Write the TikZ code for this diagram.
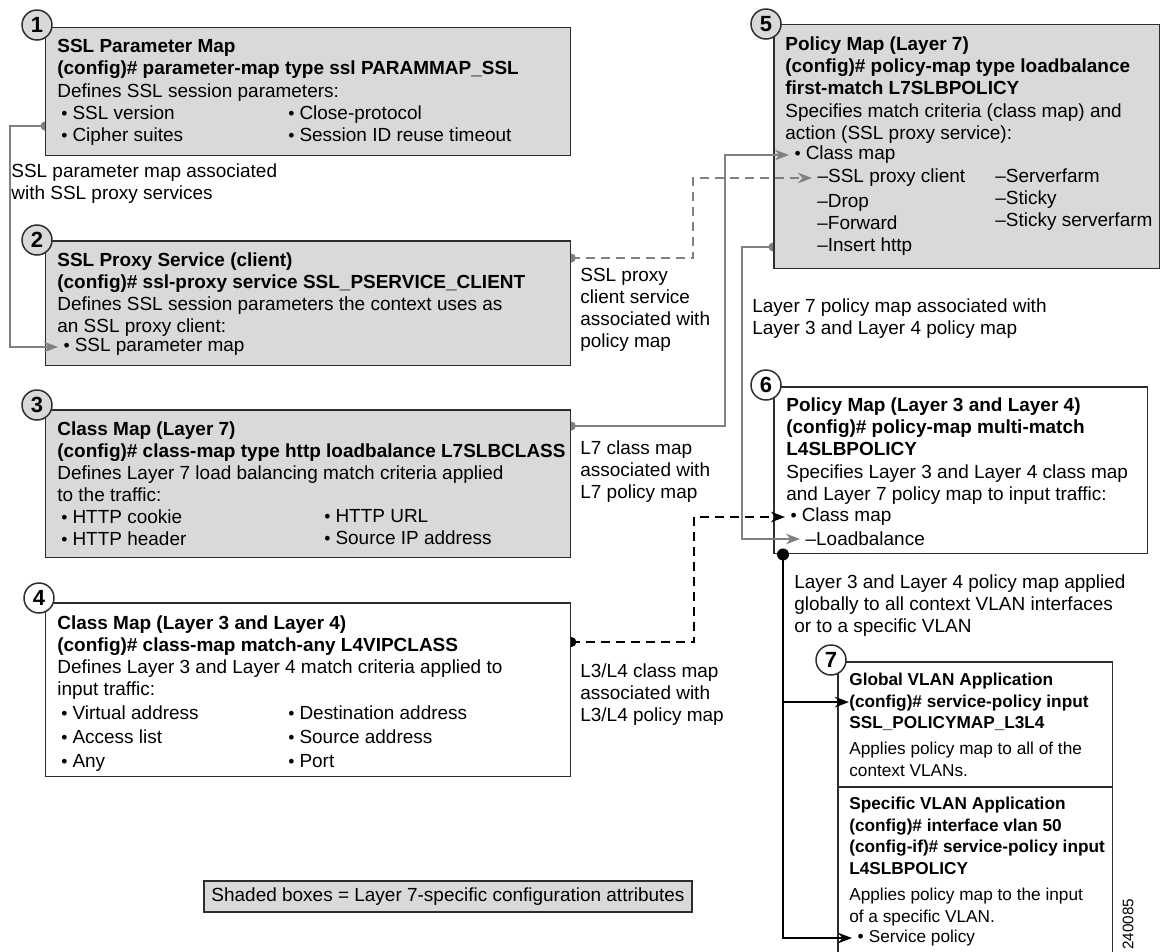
\documentclass[tikz,border=0pt]{standalone}
\usepackage{fontspec}
\setmainfont{Liberation Sans}
\usetikzlibrary{arrows.meta, positioning, calc}
\definecolor{shade}{RGB}{217,217,217}
\definecolor{linkgray}{RGB}{128,128,128}
\definecolor{edge}{RGB}{45,45,45}
\newcommand{\fnt}{\fontsize{10.8}{12.5}\selectfont}
\newcommand{\fsm}{\fontsize{9.8}{12.2}\selectfont}
\newcommand{\bul}{{\fontsize{10}{10}\selectfont\textbullet}\hspace{0.1cm}}
\pgfdeclarelayer{back}
\pgfsetlayers{back,main}

\begin{document}
\begin{tikzpicture}[x=0.02cm, y=-0.02cm,
    txt/.style={anchor=north west, inner sep=0pt, align=left, font=\fnt},
    hd/.style={txt, font=\fnt\bfseries},
    txtsm/.style={txt, font=\fsm},
    hdsm/.style={txt, font=\fsm\bfseries},
    tgt/.style={txt, anchor=west, inner xsep=3pt},
    box/.style={draw=edge, line width=0.85pt, anchor=north west, inner sep=0pt, fill=white},
    l7box/.style={box, fill=shade},
    num/.style={circle, draw=edge, line width=0.85pt, fill=white, minimum size=0.6cm, inner sep=0pt, font=\fontsize{12.5}{12.5}\selectfont\bfseries},
    glink/.style={linkgray, line width=1.15pt, -{Stealth[length=8pt, width=6pt]}},
    gdash/.style={glink, dash pattern=on 5pt off 3.5pt, -{Stealth[length=8pt, width=6pt, fill=white]}},
    blink/.style={black, line width=1.4pt, -{Stealth[length=8pt, width=6pt]}},
    bdash/.style={blink, line width=1.2pt, dash pattern=on 5pt off 3.5pt}]
  \useasboundingbox (0,0) rectangle (1162,951);
  \begin{pgfonlayer}{back}
    \fill[white] (0,0) rectangle (1162,951);
  \end{pgfonlayer}

  % left column
  \node[l7box, minimum width=10.5cm, minimum height=2.56cm] (pm) at (45,27) {};
  \node[num, fill=shade] (n1) at (37,25) {1};
  \node[hd] (pmt) at (57,39) {SSL Parameter Map\\(config)\# parameter-map type ssl PARAMMAP\_SSL};
  \node[txt] (pmd) at (57,83) {Defines SSL session parameters:};
  \node[txt] (pma) at (61,105) {\bul SSL version\\\bul Cipher suites};
  \node[txt] (pmb) at (288,105) {\bul Close-protocol\\\bul Session ID reuse timeout};

  \node[l7box, minimum width=10.5cm, minimum height=2.5cm] (ps) at (45,240) {};
  \node[num, fill=shade] (n2) at (37,240) {2};
  \node[hd] (pst) at (57,252) {SSL Proxy Service (client)\\(config)\# ssl-proxy service SSL\_PSERVICE\_CLIENT};
  \node[txt] (psd) at (57,296) {Defines SSL session parameters the context uses as\\an SSL proxy client:};
  \node[tgt] (spm) at (58,347) {\bul SSL parameter map};

  \node[l7box, minimum width=10.5cm, minimum height=2.96cm] (cm) at (45,409) {};
  \node[num, fill=shade] (n3) at (37,405) {3};
  \node[hd] (cmt) at (57,421) {Class Map (Layer 7)\\(config)\# class-map type http loadbalance L7SLBCLASS};
  \node[txt] (cmd) at (57,465) {Defines Layer 7 load balancing match criteria applied\\to the traffic:};
  \node[txt] (cma) at (61,509) {\bul HTTP cookie\\\bul HTTP header};
  \node[txt] (cmb) at (324,509) {\bul HTTP URL\\\bul Source IP address};

  \node[box, minimum width=10.5cm, minimum height=3.48cm] (cl) at (45,602) {};
  \node[num] (n4) at (39,598) {4};
  \node[hd] (clt) at (57,615) {Class Map (Layer 3 and Layer 4)\\(config)\# class-map match-any L4VIPCLASS};
  \node[txt] (cld) at (57,659) {Defines Layer 3 and Layer 4 match criteria applied to\\input traffic:};
  \node[txt, font=\fontsize{10.8}{13.7}\selectfont] (cla) at (61,705) {\bul Virtual address\\\bul Access list\\\bul Any};
  \node[txt, font=\fontsize{10.8}{13.7}\selectfont] (clb) at (288,705) {\bul Destination address\\\bul Source address\\\bul Port};

  % right column
  \node[l7box, minimum width=7.72cm, minimum height=4.88cm] (lp) at (773,24) {};
  \node[num, fill=shade] (n5) at (766,24) {5};
  \node[hd] (lpt) at (785,36) {Policy Map (Layer 7)\\(config)\# policy-map type loadbalance\\first-match L7SLBPOLICY};
  \node[txt] (lpd) at (785,103) {Specifies match criteria (class map) and\\action (SSL proxy service):};
  \node[tgt] (cm5) at (789,155) {\bul Class map};
  \node[tgt] (sp5) at (812,178) {\textendash SSL proxy client};
  \node[txt] (lpa) at (817,194) {\textendash Drop\\\textendash Forward\\\textendash Insert http};
  \node[txt] (lpb) at (995,168) {\textendash Serverfarm\\\textendash Sticky\\\textendash Sticky serverfarm};

  \node[box, minimum width=7.48cm, minimum height=3.34cm] (lm) at (773,386) {};
  \node[num] (n6) at (766,385) {6};
  \node[hd] (lmt) at (786,397) {Policy Map (Layer 3 and Layer 4)\\(config)\# policy-map multi-match\\L4SLBPOLICY};
  \node[txt] (lmd) at (786,464) {Specifies Layer 3 and Layer 4 class map\\and Layer 7 policy map to input traffic:};
  \node[tgt] (cm6) at (785,517) {\bul Class map};
  \node[tgt] (lb6) at (800,539) {\textendash Loadbalance};

  \node[box, minimum width=5.5cm, minimum height=6.6cm] (gv) at (837,661) {};
  \draw[edge, line width=0.85pt] ($(gv.north west)+(0,126)$) -- ($(gv.north east)+(0,126)$);
  \node[num] (n7) at (831,660) {7};
  \node[hdsm] (g7) at (849,673) {Global VLAN Application\\(config)\# service-policy input\\SSL\_POLICYMAP\_L3L4};
  \node[txtsm] (g7d) at (849,742) {Applies policy map to all of the\\context VLANs.};
  \node[hdsm] (s7) at (849,797) {Specific VLAN Application\\(config)\# interface vlan 50\\(config-if)\# service-policy input\\L4SLBPOLICY};
  \node[txtsm] (s7d) at (849,888) {Applies policy map to the input\\of a specific VLAN.};
  \node[tgt, font=\fsm] (sv7) at (852,938) {\bul Service policy};

  % labels
  \node[txt] (lab1) at (11,163) {SSL parameter map associated\\with SSL proxy services};
  \node[txt] (lab2) at (580,268) {SSL proxy\\client service\\associated with\\policy map};
  \node[txt] (lab3) at (580,440) {L7 class map\\associated with\\L7 policy map};
  \node[txt] (lab4) at (580,663) {L3/L4 class map\\associated with\\L3/L4 policy map};
  \node[txt] (lab5) at (752,298) {Layer 7 policy map associated with\\Layer 3 and Layer 4 policy map};
  \node[txt] (lab6) at (794,574) {Layer 3 and Layer 4 policy map applied\\globally to all context VLAN interfaces\\or to a specific VLAN};
  \node[draw=edge, fill=shade, line width=0.85pt, minimum width=9.76cm, minimum height=0.62cm, inner sep=0pt, font=\fnt] (key) at (448,896.5) {Shaded boxes = Layer 7-specific configuration attributes};
  \node[rotate=90, inner sep=0pt, font=\fontsize{8.7}{8.7}\selectfont] (fig) at (1128,924) {240085};

  % connectors
  \coordinate (pmo) at ($(pm.north west)+(0,99)$);
  \coordinate (pso) at ($(ps.north east)+(0,18)$);
  \coordinate (cmo) at ($(cm.north east)+(0,17)$);
  \coordinate (lpo) at ($(lp.north west)+(0,223)$);
  \coordinate (clo) at ($(cl.north east)+(0,40)$);
  \coordinate (lmo) at ($(lm.south west)+(10,0)$);
  \begin{pgfonlayer}{back}
    \fill[linkgray] (pmo) circle (4.5);
    \fill[linkgray] (pso) circle (4.5);
    \fill[linkgray] (cmo) circle (4.5);
    \fill[linkgray] (lpo) circle (4.5);
    \fill (clo) circle (5);
  \end{pgfonlayer}
  \draw[glink] (pmo) -- ++(-35,0) |- (spm.west);
  \draw[gdash] (pso) -- ++(122,0) |- (sp5.west);
  \draw[glink] (cmo) -- ++(154,0) |- (cm5.west);
  \draw[glink] (lpo) -- ++(-31,0) |- (lb6.west);
  \draw[bdash] (clo) -- ++(123,0) |- (cm6.west);
  \draw[blink] (lmo) |- (sv7.west);
  \draw[blink] (lmo |- g7.west) -- (g7.west);
  \fill (lmo) circle (6);
\end{tikzpicture}
\end{document}
